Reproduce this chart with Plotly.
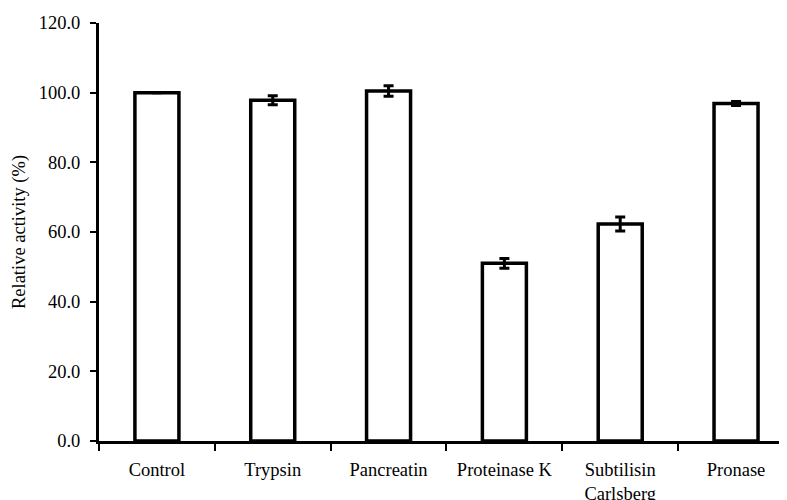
import plotly.graph_objects as go

categories = ["Control", "Trypsin", "Pancreatin", "Proteinase K", "Subtilisin<br>Carlsberg", "Pronase"]
activity = [100.0, 97.8, 100.5, 51.0, 62.3, 96.9]
errors = [None, 1.3, 1.5, 1.4, 2.0, 0.6]
ytick_vals = [0, 20, 40, 60, 80, 100, 120]
ytick_text = ["0.0", "20.0", "40.0", "60.0", "80.0", "100.0", "120.0"]

FONT = "Liberation Serif, Times New Roman, serif"

fig = go.Figure()
fig.add_trace(go.Bar(
    x=categories,
    y=activity,
    width=0.38,
    marker=dict(color="white", line=dict(color="black", width=3.5)),
    error_y=dict(type="data", array=errors, visible=True, color="black", thickness=3, width=5),
    showlegend=False,
))

# page body has an 8px default margin; compensate so the plot sits where it does in the reference
fig.update_layout(
    width=779, height=492,
    margin=dict(l=91, r=0, t=15, b=59, autoexpand=False),
    plot_bgcolor="white", paper_bgcolor="white",
    font=dict(family=FONT, size=18.5, color="black"),
)
fig.update_xaxes(
    type="category",
    range=[-0.5, 5.44],
    automargin=False,
    showline=True, linewidth=3, linecolor="black",
    ticks="outside", ticklen=7, tickwidth=2, tickcolor="black",
    tickson="boundaries",
    ticklabelstandoff=10,
    showgrid=False, zeroline=False,
    tickfont=dict(family=FONT, size=18.5),
)
fig.update_yaxes(
    range=[0, 120],
    automargin=False,
    tickvals=ytick_vals, ticktext=ytick_text,
    showline=True, linewidth=3, linecolor="black",
    ticks="outside", ticklen=6, tickwidth=2, tickcolor="black",
    ticklabelstandoff=6,
    showgrid=False, zeroline=False,
    tickfont=dict(family=FONT, size=18.5),
    title=dict(text="Relative activity (%)", font=dict(family=FONT, size=18.5), standoff=9),
)

fig.write_html("out.html")
